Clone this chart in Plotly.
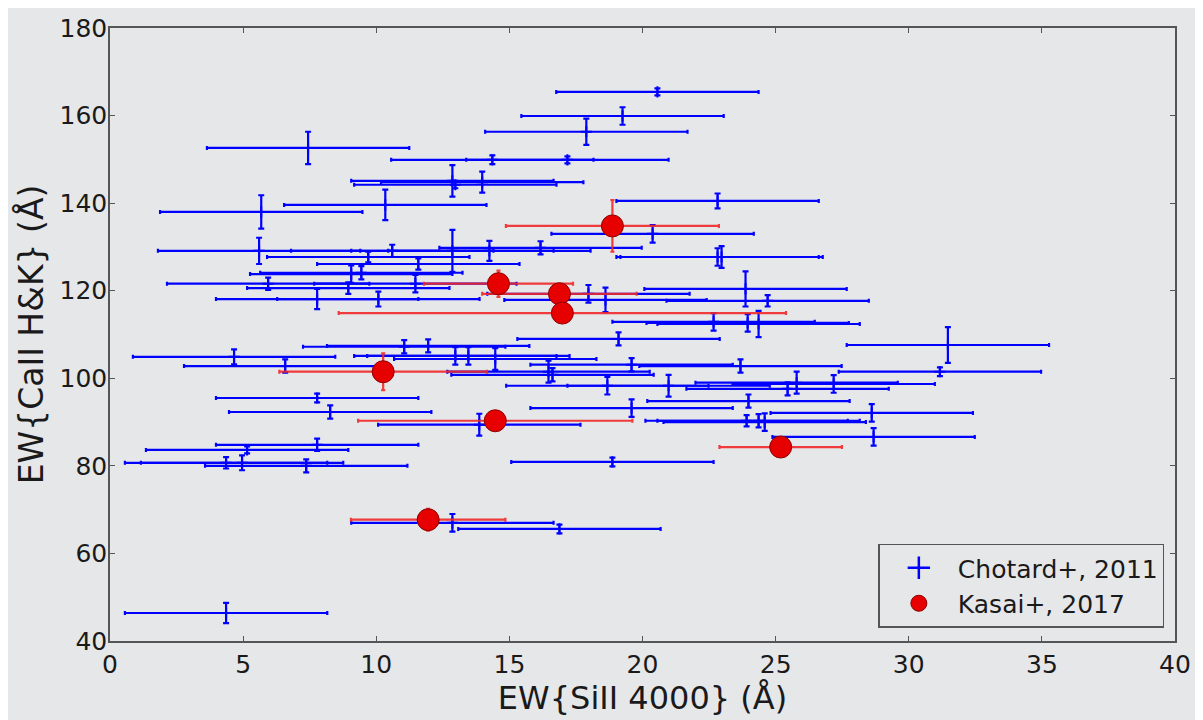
import plotly.graph_objects as go

# Chotard+, 2011 (blue)
chotard_x = [20.56, 19.25, 17.89, 7.44, 14.36, 17.18, 12.86, 12.97, 13.98, 22.82,
             10.34, 5.68, 20.38, 5.60, 10.60, 12.86, 14.25, 16.17, 9.70, 22.82,
             22.97, 11.58, 9.06, 9.44, 5.94, 11.47, 8.95, 23.87, 17.97, 7.78,
             10.08, 18.61, 24.70, 22.67, 23.95, 24.36, 19.10, 31.47, 11.05, 11.95,
             4.66, 12.97, 13.46, 14.47, 6.58, 19.59, 23.68, 16.47, 16.62, 31.17,
             18.68, 20.98, 25.79, 27.18, 25.45, 7.78, 23.98, 8.27, 19.59, 28.61,
             13.87, 23.91, 24.36, 24.59, 28.68, 7.78, 5.15, 4.36, 4.96, 7.37,
             18.87, 12.86, 16.88, 4.36]
chotard_y = [165.4, 159.9, 156.3, 152.6, 149.9, 149.9, 145.1, 144.2, 144.8, 140.5,
             139.6, 138.0, 133.0, 129.1, 129.1, 129.1, 129.1, 129.8, 127.7, 127.7,
             127.7, 126.1, 123.8, 124.1, 121.6, 121.6, 120.6, 120.4, 119.3, 118.1,
             118.1, 117.9, 117.7, 112.9, 112.65, 112.4, 109.0, 107.6, 107.2, 107.4,
             104.9, 105.1, 105.1, 104.4, 102.8, 103.1, 102.8, 101.5, 100.8, 101.5,
             98.3, 98.3, 99.0, 98.7, 97.6, 95.5, 94.8, 92.3, 93.2, 92.1,
             89.4, 90.3, 90.3, 90.0, 86.6, 84.8, 83.65, 80.7, 80.7, 80.0,
             80.9, 67.0, 65.6, 46.4]
chotard_xerr = [3.8] * len(chotard_x)
chotard_yerr = [0.8, 2.0, 3.0, 3.7, 1.0, 0.8, 3.6, 0.8, 2.4, 1.7,
                3.5, 3.8, 2.0, 3.0, 1.4, 4.8, 2.3, 1.5, 1.2, 2.0,
                2.5, 1.3, 2.0, 1.5, 1.4, 2.0, 1.3, 4.0, 2.0, 2.3,
                1.7, 2.8, 1.3, 2.0, 2.0, 3.0, 1.5, 4.1, 1.5, 1.5,
                1.7, 2.0, 2.0, 2.5, 1.5, 1.5, 1.5, 2.5, 1.5, 1.0,
                2.0, 2.5, 2.5, 2.0, 1.5, 1.0, 1.5, 1.5, 2.0, 2.0,
                2.5, 1.3, 1.5, 2.0, 2.0, 1.4, 0.8, 1.3, 1.7, 1.5,
                1.0, 2.0, 1.0, 2.3]

# Kasai+, 2017 (red)
kasai_x = [18.87, 14.59, 16.88, 16.99, 10.26, 14.47, 25.19, 11.95]
kasai_y = [134.8, 121.6, 119.3, 114.9, 101.5, 90.3, 84.3, 67.7]
kasai_xerr = [4.0, 2.8, 2.9, 8.4, 3.9, 5.15, 2.3, 2.9]
kasai_yerr = [5.9, 3.0, 2.0, 1.5, 4.2, 1.5, 1.0, 2.5]

series_names = ["Chotard+, 2011", "Kasai+, 2017"]

BG = "#e6e7e9"
AX = "#555555"
TXT = "#1a1a1a"
FONT = "DejaVu Sans"
BLUE = "#0000ff"
RED = "#e60000"
RED_ERR = "rgba(240,40,40,0.9)"

fig = go.Figure()
fig.add_trace(go.Scatter(
    x=chotard_x, y=chotard_y, mode="markers", name=series_names[0], showlegend=False,
    legendgroup="c",
    marker=dict(symbol="cross-thin-open", size=8, color=BLUE,
                line=dict(color=BLUE, width=2)),
    error_x=dict(type="data", array=chotard_xerr, color=BLUE, thickness=2.2, width=2),
    error_y=dict(type="data", array=chotard_yerr, color=BLUE, thickness=2.2, width=3),
))
fig.add_trace(go.Scatter(
    x=kasai_x, y=kasai_y, mode="markers", name=series_names[1], showlegend=False,
    legendgroup="k",
    marker=dict(symbol="circle", size=22, color=RED,
                line=dict(color="#8a0000", width=1)),
    error_x=dict(type="data", array=kasai_xerr, color=RED_ERR, thickness=2.2, width=2),
    error_y=dict(type="data", array=kasai_yerr, color=RED_ERR, thickness=2.2, width=2),
))
# legend entries (symbol swatches only)
fig.add_trace(go.Scatter(
    x=[None], y=[None], mode="markers", name=series_names[0], legendgroup="c",
    marker=dict(symbol="cross-thin-open", size=26, color=BLUE, line=dict(color=BLUE, width=2.5)),
))
fig.add_trace(go.Scatter(
    x=[None], y=[None], mode="markers", name=series_names[1], legendgroup="k",
    marker=dict(symbol="circle", size=23, color=RED, line=dict(color="#8a0000", width=1)),
))

axis_common = dict(
    showgrid=False, zeroline=False, showline=True, linecolor=AX, linewidth=1.5,
    mirror="ticks", ticks="inside", ticklen=5, tickwidth=1, tickcolor=AX,
    tickfont=dict(family=FONT, size=25, color=TXT), automargin=False,
)
fig.update_xaxes(range=[0, 40], dtick=5, tick0=0,
                 title=dict(text="EW{SiII 4000} (Å)", font=dict(family=FONT, size=32, color=TXT), standoff=0),
                 **axis_common)
fig.update_yaxes(range=[40, 180], dtick=20, tick0=40, ticklabelstandoff=-4,
                 title=dict(text="EW{CaII H&K} (Å)", font=dict(family=FONT, size=33, color=TXT), standoff=6),
                 **axis_common)

fig.update_layout(
    width=1203, height=720,
    paper_bgcolor=BG, plot_bgcolor=BG,
    margin=dict(l=102, r=36, t=20, b=87),
    showlegend=True,
    legend=dict(x=0.99, y=0.022, xanchor="right", yanchor="bottom",
                bgcolor=BG, bordercolor=AX, borderwidth=1.5,
                font=dict(family=FONT, size=25, color=TXT),
                itemsizing="trace", itemwidth=68, tracegroupgap=0),
)

fig.write_html("out.html")
